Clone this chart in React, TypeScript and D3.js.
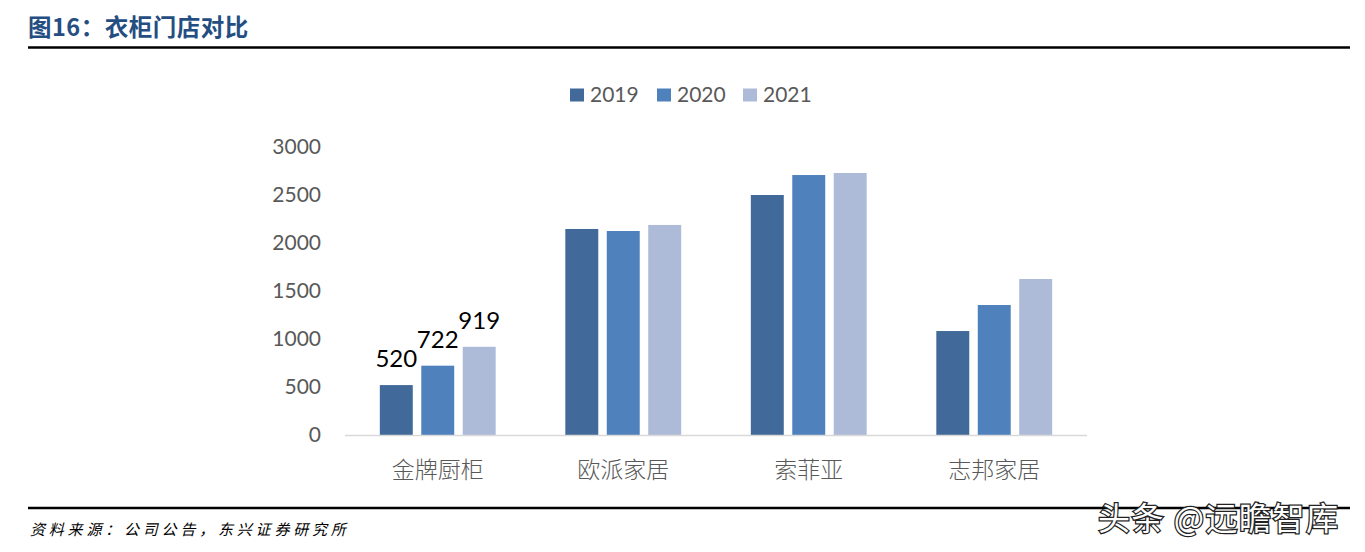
import React, { useEffect, useRef } from 'react';
import * as d3 from 'd3';

const categories = ['金牌厨柜', '欧派家居', '索菲亚', '志邦家居'];
const years = ['2019', '2020', '2021'];
const values2019 = [520, 2146, 2500, 1083];
const values2020 = [722, 2125, 2708, 1354];
const values2021 = [919, 2188, 2729, 1625];
const yTicks = [0, 500, 1000, 1500, 2000, 2500, 3000];
const colors = ['#416999', '#4F81BD', '#ADBAD8'];

const W = 1365;
const H = 552;

const App = () => {
  const svgRef = useRef(null);

  useEffect(() => {
    const svg = d3.select(svgRef.current);
    svg.selectAll('*').remove(); // Clear previous elements

    const series = [values2019, values2020, values2021];
    const numFont = 'Lato, "Open Sans", sans-serif';
    const cjkFont = '"Noto Sans CJK SC", sans-serif';

    // title + rule
    svg.append('text')
      .attr('x', 28).attr('y', 36)
      .attr('font-family', '"Noto Sans CJK SC", "Liberation Sans", sans-serif')
      .attr('font-weight', 700)
      .attr('font-size', 23.5)
      .attr('letter-spacing', 0.5)
      .attr('fill', '#244D82')
      .text('图16：衣柜门店对比');
    svg.append('line')
      .attr('x1', 28).attr('x2', 1350)
      .attr('y1', 47.5).attr('y2', 47.5)
      .attr('stroke', '#000').attr('stroke-width', 2.5);

    // scales
    const x0 = d3.scaleBand().domain(categories).range([345, 1087]);
    const x1 = d3.scaleBand().domain(years).range([0, x0.bandwidth()])
      .paddingInner(0.205).paddingOuter(0.84);
    const y = d3.scaleLinear().domain([0, 3000]).range([435, 147]);

    // y labels
    svg.append('g').selectAll('text')
      .data(yTicks).enter().append('text')
      .attr('x', 321)
      .attr('y', d => y(d))
      .attr('dy', '0.35em')
      .attr('text-anchor', 'end')
      .attr('font-family', numFont)
      .attr('font-size', 21)
      .attr('fill', '#595959')
      .text(d => d);

    // bars
    const groups = svg.append('g').selectAll('g')
      .data(categories).enter().append('g')
      .attr('transform', d => `translate(${x0(d)},0)`);

    groups.selectAll('rect')
      .data((d, i) => years.map((yr, j) => ({ yr, v: series[j][i], j })))
      .enter().append('rect')
      .attr('x', d => x1(d.yr))
      .attr('y', d => y(d.v))
      .attr('width', x1.bandwidth())
      .attr('height', d => y(0) - y(d.v))
      .attr('fill', d => colors[d.j]);

    // data labels only on first category
    svg.append('g').selectAll('text')
      .data(years).enter().append('text')
      .attr('x', d => x0(categories[0]) + x1(d) + x1.bandwidth() / 2)
      .attr('y', (d, j) => y(series[j][0]) - 18)
      .attr('text-anchor', 'middle')
      .attr('font-family', numFont)
      .attr('font-size', 24)
      .attr('fill', '#000')
      .text((d, j) => series[j][0]);

    // baseline
    svg.append('line')
      .attr('x1', 345).attr('x2', 1087)
      .attr('y1', y(0) + 0.5).attr('y2', y(0) + 0.5)
      .attr('stroke', '#D9D9D9').attr('stroke-width', 1.5);

    // category labels
    svg.append('g').selectAll('text')
      .data(categories).enter().append('text')
      .attr('x', d => x0(d) + x0.bandwidth() / 2)
      .attr('y', 470)
      .attr('dy', '0.35em')
      .attr('text-anchor', 'middle')
      .attr('font-family', cjkFont)
      .attr('font-weight', 300)
      .attr('font-size', 23)
      .attr('fill', '#595959')
      .text(d => d);

    // legend
    const legendX = [570, 657, 743];
    const legend = svg.append('g').selectAll('g')
      .data(years).enter().append('g')
      .attr('transform', (d, i) => `translate(${legendX[i]},95)`);
    legend.append('rect')
      .attr('x', 0).attr('y', -6.5)
      .attr('width', 14).attr('height', 13)
      .attr('fill', (d, i) => colors[i]);
    legend.append('text')
      .attr('x', 20).attr('y', 0)
      .attr('dy', '0.35em')
      .attr('font-family', numFont)
      .attr('font-size', 21)
      .attr('fill', '#595959')
      .text(d => d);

    // footer
    svg.append('line')
      .attr('x1', 28).attr('x2', 1350)
      .attr('y1', 508).attr('y2', 508)
      .attr('stroke', '#000').attr('stroke-width', 2.5);
    svg.append('text')
      .attr('x', 30).attr('y', 535)
      .attr('font-family', cjkFont)
      .attr('font-style', 'italic')
      .attr('font-size', 15)
      .attr('letter-spacing', 3.8)
      .attr('fill', '#000')
      .text('资料来源：公司公告，东兴证券研究所');

    // watermark
    svg.append('text')
      .attr('x', 1098).attr('y', 530)
      .attr('font-family', cjkFont)
      .attr('font-size', 32)
      .attr('letter-spacing', 1.5)
      .attr('fill', '#fff')
      .attr('stroke', '#222')
      .attr('stroke-width', 2.5)
      .attr('paint-order', 'stroke')
      .text('头条 @远瞻智库');
  }, []);

  return (
    <svg
      ref={svgRef}
      width={W}
      height={H}
      style={{ position: 'absolute', left: 0, top: 0, background: '#fff' }}
    />
  );
};

export default App;
